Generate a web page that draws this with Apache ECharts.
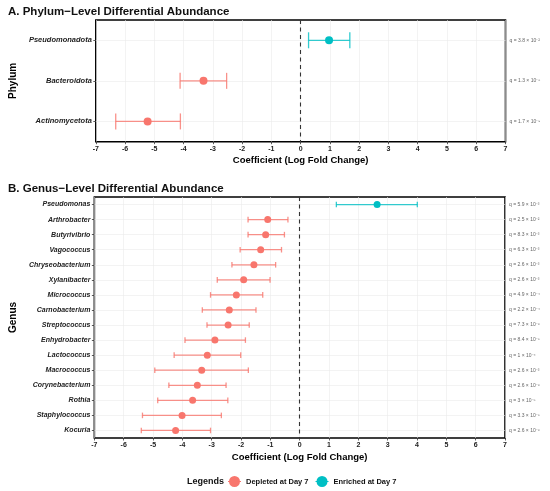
<!DOCTYPE html>
<html>
<head>
<meta charset="utf-8">
<script src="https://cdn.jsdelivr.net/npm/echarts@6/dist/echarts.min.js"></script>
<style>
  html, body { margin: 0; padding: 0; background: #fff; }
  #chart { width: 550px; height: 491px; }
</style>
</head>
<body>
<div id="chart"></div>
<script>
// 门水平数据（自上而下）
const phylumNames = ['Pseudomonadota', 'Bacteroidota', 'Actinomycetota'];
const phylumEst = [0.97, -3.32, -5.23];
const phylumLow = [0.27, -4.12, -6.32];
const phylumHigh = [1.68, -2.53, -4.11];
const phylumQ = ['q = 3.8 × 10⁻²', 'q = 1.3 × 10⁻⁸', 'q = 1.7 × 10⁻⁹'];

// 属水平数据（自上而下）
const genusNames = ['Pseudomonas', 'Arthrobacter', 'Butyrivibrio', 'Vagococcus', 'Chryseobacterium',
    'Xylanibacter', 'Micrococcus', 'Carnobacterium', 'Streptococcus', 'Enhydrobacter', 'Lactococcus',
    'Macrococcus', 'Corynebacterium', 'Rothia', 'Staphylococcus', 'Kocuria'];
const genusEst = [2.64, -1.09, -1.16, -1.33, -1.56, -1.91, -2.16, -2.40, -2.44, -2.89, -3.15, -3.34, -3.49, -3.65, -4.01, -4.23];
const genusLow = [1.25, -1.76, -1.76, -2.03, -2.31, -2.81, -3.04, -3.32, -3.16, -3.91, -4.28, -4.94, -4.46, -4.84, -5.36, -5.40];
const genusHigh = [4.01, -0.40, -0.52, -0.62, -0.82, -1.01, -1.26, -1.49, -1.72, -1.85, -2.01, -1.75, -2.51, -2.45, -2.67, -3.04];
const genusQ = ['q = 5.9 × 10⁻³', 'q = 2.5 × 10⁻²', 'q = 8.3 × 10⁻³', 'q = 6.3 × 10⁻³', 'q = 2.6 × 10⁻³',
    'q = 2.6 × 10⁻³', 'q = 4.9 × 10⁻⁴', 'q = 2.2 × 10⁻⁴', 'q = 7.3 × 10⁻⁶', 'q = 8.4 × 10⁻⁵', 'q = 1 × 10⁻⁴',
    'q = 2.6 × 10⁻³', 'q = 2.6 × 10⁻⁶', 'q = 3 × 10⁻⁵', 'q = 3.3 × 10⁻⁵', 'q = 2.6 × 10⁻⁶'];

const RED = '#F8766D';
const TEAL = '#00BFC4';
const FONT = 'Liberation Sans, Arial, sans-serif';
// 图例图标：圆点 + 横线
const KEY_ICON = 'path://M0,5.4 H13 V6.6 H0 Z M6.5,0.5 A5.5,5.5 0 1,1 6.49,0.5 Z';

const chart = echarts.init(document.getElementById('chart'));

// 误差线数据
function errData(names, low, high, est) {
    return names.map((n, i) => [i, low[i], high[i], est[i] > 0 ? 1 : 0]);
}
function pointData(names, est, positive) {
    const out = [];
    names.forEach((n, i) => {
        if ((est[i] > 0) === positive) out.push([est[i], n]);
    });
    return out;
}

function errSeries(gi, names, low, high, est, capH) {
    return {
        type: 'custom',
        xAxisIndex: gi,
        yAxisIndex: gi * 2,
        silent: true,
        z: 2,
        encode: { x: [1, 2], y: 0 },
        data: errData(names, low, high, est),
        renderItem: function (params, api) {
            const a = api.coord([api.value(1), api.value(0)]);
            const b = api.coord([api.value(2), api.value(0)]);
            const color = api.value(3) ? TEAL : RED;
            const style = { stroke: color, lineWidth: 1.3, opacity: 0.8 };
            return {
                type: 'group',
                children: [
                    { type: 'line', shape: { x1: a[0], y1: a[1], x2: b[0], y2: b[1] }, style: style },
                    { type: 'line', shape: { x1: a[0], y1: a[1] - capH, x2: a[0], y2: a[1] + capH }, style: style },
                    { type: 'line', shape: { x1: b[0], y1: b[1] - capH, x2: b[0], y2: b[1] + capH }, style: style }
                ]
            };
        },
        // 横向网格线放在类别中心
        markLine: {
            silent: true, symbol: 'none', label: { show: false }, z: 1,
            lineStyle: { color: '#ebebeb', type: 'solid', width: 0.6 },
            data: names.map(n => ({ yAxis: n }))
        }
    };
}

function xAxisCfg(gi) {
    return {
        type: 'value',
        gridIndex: gi,
        min: -7,
        max: 7,
        interval: 1,
        name: 'Coefficient (Log Fold Change)',
        nameLocation: 'middle',
        nameGap: 14,
        nameTextStyle: { fontFamily: FONT, fontWeight: 'bold', fontSize: 9.5, color: '#000' },
        axisLine: { show: false, onZero: false },
        axisTick: { show: true, length: 2.5, lineStyle: { color: '#333', width: 0.8 } },
        axisLabel: { fontFamily: FONT, fontWeight: 'bold', fontSize: 7, color: '#222', margin: 4 },
        splitLine: { show: true, lineStyle: { color: '#ebebeb', width: 0.6 } }
    };
}

function yAxisCfg(gi, names, title, fs) {
    return {
        type: 'category',
        gridIndex: gi,
        inverse: true,
        position: 'left',
        data: names,
        name: title,
        nameLocation: 'middle',
        nameRotate: 90,
        nameGap: 69,
        nameTextStyle: { fontFamily: FONT, fontWeight: 'bold', fontSize: 10, color: '#000' },
        axisLine: { show: false, onZero: false },
        axisTick: { show: true, alignWithLabel: true, length: 2.5, lineStyle: { color: '#333', width: 0.8 } },
        axisLabel: { fontFamily: FONT, fontWeight: 'bold', fontStyle: 'italic', fontSize: fs, color: '#222', margin: 4 },
        splitLine: { show: false }
    };
}

function qAxisCfg(gi, labels) {
    return {
        type: 'category',
        gridIndex: gi,
        inverse: true,
        position: 'right',
        data: labels,
        axisLine: { show: false, onZero: false },
        axisTick: { show: false },
        axisLabel: { fontFamily: FONT, fontSize: 5, color: '#666', margin: 4, align: 'left' },
        splitLine: { show: false }
    };
}

const option = {
    animation: false,
    backgroundColor: '#fff',
    title: [
        { text: 'A. Phylum−Level Differential Abundance', left: 3, top: 1,
          textStyle: { fontFamily: FONT, fontWeight: 'bold', fontSize: 11.5, color: '#111' } },
        { text: 'B. Genus−Level Differential Abundance', left: 3, top: 178,
          textStyle: { fontFamily: FONT, fontWeight: 'bold', fontSize: 11.5, color: '#111' } }
    ],
    grid: [
        { left: 76.7, top: 20, right: 44.5, height: 121.7, show: true, borderColor: '#000', borderWidth: 1.6 },
        { left: 78, top: 197, right: 45, height: 241, show: true, borderColor: '#000', borderWidth: 1.6 }
    ],
    xAxis: [xAxisCfg(0), xAxisCfg(1)],
    yAxis: [
        yAxisCfg(0, phylumNames, 'Phylum', 7.5),
        qAxisCfg(0, phylumQ),
        yAxisCfg(1, genusNames, 'Genus', 7),
        qAxisCfg(1, genusQ)
    ],
    legend: {
        left: 228,
        top: 476,
        padding: 0,
        itemWidth: 13,
        itemHeight: 12,
        itemGap: 7,
        icon: KEY_ICON,
        data: ['Depleted at Day 7', 'Enriched at Day 7'],
        textStyle: { fontFamily: FONT, fontWeight: 'bold', fontSize: 7.5, color: '#111' }
    },
    graphic: [
        { type: 'text', left: 187, top: 477.5,
          style: { text: 'Legends', font: 'bold 9px ' + FONT, fill: '#111' } }
    ],
    series: [
        errSeries(0, phylumNames, phylumLow, phylumHigh, phylumEst, 8),
        errSeries(1, genusNames, genusLow, genusHigh, genusEst, 2.8),
        {
            name: 'Depleted at Day 7', type: 'scatter', xAxisIndex: 0, yAxisIndex: 0,
            symbolSize: 8, itemStyle: { color: RED, opacity: 1 }, z: 3,
            data: pointData(phylumNames, phylumEst, false),
            markLine: {
                silent: true, symbol: 'none', label: { show: false },
                lineStyle: { color: '#333', type: [4, 3.5], width: 1.1 },
                data: [{ xAxis: 0 }]
            }
        },
        {
            name: 'Enriched at Day 7', type: 'scatter', xAxisIndex: 0, yAxisIndex: 0,
            symbolSize: 8, itemStyle: { color: TEAL, opacity: 1 }, z: 3,
            data: pointData(phylumNames, phylumEst, true)
        },
        {
            name: 'Depleted at Day 7', type: 'scatter', xAxisIndex: 1, yAxisIndex: 2,
            symbolSize: 7, itemStyle: { color: RED, opacity: 1 }, z: 3,
            data: pointData(genusNames, genusEst, false),
            markLine: {
                silent: true, symbol: 'none', label: { show: false },
                lineStyle: { color: '#333', type: [4, 3.5], width: 1.1 },
                data: [{ xAxis: 0 }]
            }
        },
        {
            name: 'Enriched at Day 7', type: 'scatter', xAxisIndex: 1, yAxisIndex: 2,
            symbolSize: 7, itemStyle: { color: TEAL, opacity: 1 }, z: 3,
            data: pointData(genusNames, genusEst, true)
        }
    ]
};

chart.setOption(option);
</script>
</body>
</html>
